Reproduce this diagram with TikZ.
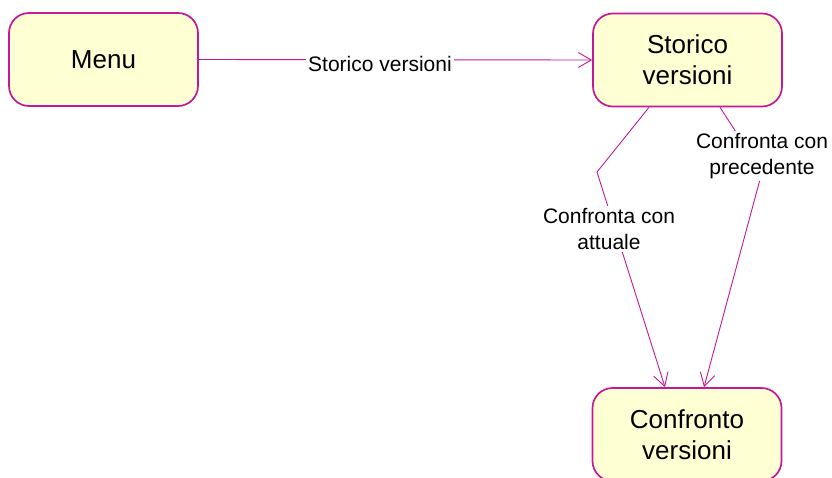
\documentclass[tikz,border=0pt]{standalone}
\usepackage{fontspec}
\setmainfont{Liberation Sans}
\usetikzlibrary{arrows.meta}
\definecolor{edgecol}{RGB}{196,24,154}
\definecolor{boxfill}{RGB}{255,255,212}
\tikzset{
  statebox/.style={draw=edgecol, line width=1.7pt, fill=boxfill, rounded corners=20pt,
    minimum width=189pt, minimum height=93pt, inner sep=0pt, align=center,
    font=\fontsize{26}{31}\selectfont},
  trans/.style={draw=edgecol, line width=0.9pt, -{Straight Barb[length=13pt,width=15pt,line width=0.9pt]}},
  translabel/.style={fill=white, inner sep=2pt, align=center, font=\fontsize{21}{26}\selectfont}
}
\begin{document}
\begin{tikzpicture}[x=1pt,y=-1pt]
\useasboundingbox (0,0) rectangle (832,477);
\node[statebox] (menu) at (103.5,59.5) {Menu};
\node[statebox] (st) at (687.5,60) {Storico\\versioni};
\node[statebox] (cv) at (687,434.5) {Confronto\\versioni};
\coordinate (b1) at (597,172);
\coordinate (b2) at (762,172);
\draw[trans] (menu.east) -- (st.west);
\draw[trans] ([xshift=-38.5pt]st.south) -- (b1) -- ([xshift=-22pt]cv.north);
\draw[trans] ([xshift=32.5pt]st.south) -- (b2) -- ([xshift=17pt]cv.north);
\node[translabel] (l1) at (380,64) {Storico versioni};
\node[translabel] (l2) at (609,229) {Confronta con\\attuale};
\node[translabel] (l3) at (762,156) {Confronta con\\precedente};
\end{tikzpicture}
\end{document}
